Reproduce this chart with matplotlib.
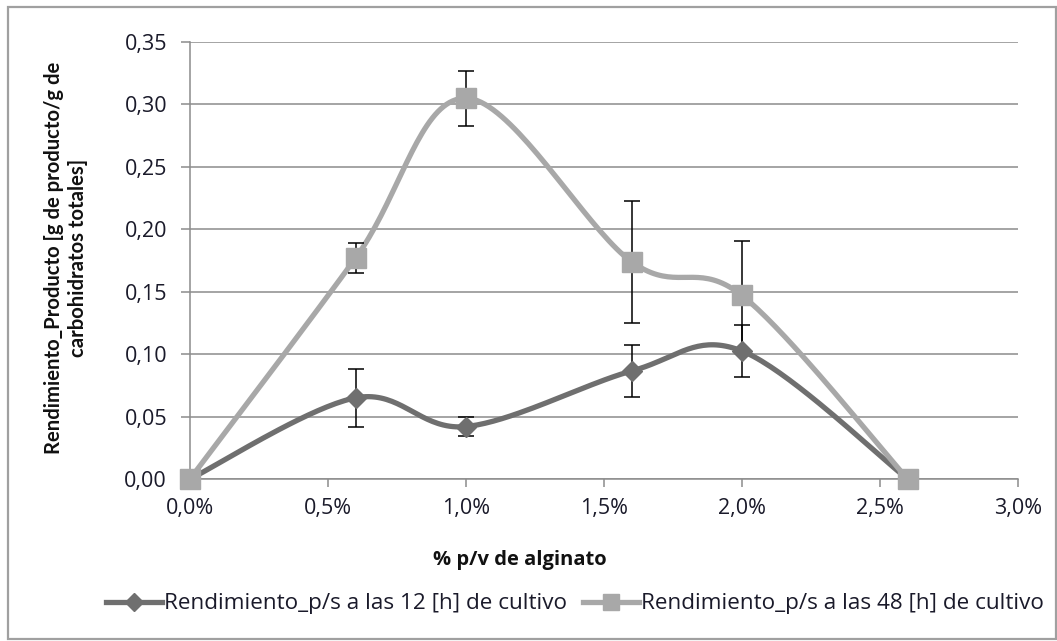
import numpy as np
import matplotlib
matplotlib.use('agg')
import matplotlib.pyplot as plt
from matplotlib.patches import Rectangle
from matplotlib.ticker import FuncFormatter

plt.rcParams['font.family'] = ['Open Sans', 'DejaVu Sans']

# % p/v de alginato
alginato = [0.0, 0.6, 1.0, 1.6, 2.0, 2.6]
rend_12h = [0.0, 0.065, 0.042, 0.0865, 0.1025, 0.0]
err_12h = [0.0, 0.0235, 0.0075, 0.021, 0.021, 0.0]
rend_48h = [0.0, 0.177, 0.305, 0.174, 0.147, 0.0]
err_48h = [0.0, 0.012, 0.022, 0.049, 0.044, 0.0]

label_12 = 'Rendimiento_p/s a las 12 [h] de cultivo'
label_48 = 'Rendimiento_p/s a las 48 [h] de cultivo'

c12 = '#6f6f6f'
c48 = '#a8a8a8'
grid_c = '#8c8c8c'
txt_c = '#1a1a2a'


def smooth(x, y, n=40):
    # excel style smoothed line (catmull-rom bezier)
    x = np.asarray(x, float)
    y = np.asarray(y, float)
    px = np.concatenate([[x[0]], x, [x[-1]]])
    py = np.concatenate([[y[0]], y, [y[-1]]])
    t = np.linspace(0, 1, n)
    xs, ys = [], []
    for i in range(1, len(px) - 2):
        p0 = np.array([px[i - 1], py[i - 1]])
        p1 = np.array([px[i], py[i]])
        p2 = np.array([px[i + 1], py[i + 1]])
        p3 = np.array([px[i + 2], py[i + 2]])
        c1 = p1 + (p2 - p0) / 6
        c2 = p2 - (p3 - p1) / 6
        b = ((1 - t) ** 3)[:, None] * p1 + (3 * (1 - t) ** 2 * t)[:, None] * c1 \
            + (3 * (1 - t) * t ** 2)[:, None] * c2 + (t ** 3)[:, None] * p2
        xs.append(b[:, 0])
        ys.append(b[:, 1])
    return np.concatenate(xs), np.concatenate(ys)


W, H = 1057, 641
fig = plt.figure(figsize=(W / 100, H / 100), dpi=100)
ax = fig.add_axes([190 / W, 1 - 479 / H, (1018 - 190) / W, (479 - 42) / H])

fig.patches.append(Rectangle((8 / W, 1 - 639 / H), (1056 - 8) / W, (639 - 7) / H,
                             transform=fig.transFigure, fill=False,
                             edgecolor='#a0a0a0', lw=1.6))

for xs, ys, es, col, mk, ms, lab in [
        (alginato, rend_12h, err_12h, c12, 'D', 10.5, label_12),
        (alginato, rend_48h, err_48h, c48, 's', 14, label_48)]:
    ax.errorbar(xs, ys, yerr=es, fmt='none', ecolor='black', elinewidth=1.1,
                capsize=6, capthick=1.1, zorder=3)
    sx, sy = smooth(xs, ys)
    ax.plot(sx, sy, color=col, lw=3.8, zorder=2, solid_capstyle='round', clip_on=False)
    ax.plot(xs, ys, ls='none', marker=mk, ms=ms, color=col, zorder=4, clip_on=False)
    ax.plot([], [], color=col, lw=3.8, marker=mk, ms=ms * 0.85, label=lab)

ax.set_xlim(0, 3.0)
ax.set_ylim(0, 0.35)
ax.set_xticks(np.arange(0, 3.01, 0.5))
ax.set_yticks(np.arange(0, 0.351, 0.05))
ax.xaxis.set_major_formatter(FuncFormatter(lambda v, p: f'{v:.1f}%'.replace('.', ',')))
ax.yaxis.set_major_formatter(FuncFormatter(lambda v, p: f'{v:.2f}'.replace('.', ',')))
ax.yaxis.grid(True, color=grid_c, lw=1.1)
ax.set_axisbelow(True)
for s in ['top', 'right']:
    ax.spines[s].set_visible(False)
for s in ['left', 'bottom']:
    ax.spines[s].set_color(grid_c)
    ax.spines[s].set_linewidth(1.1)
ax.tick_params(axis='y', length=6.5, width=1.1, color=grid_c, pad=10, labelsize=15.5, labelcolor=txt_c)
ax.tick_params(axis='x', length=6, width=1.1, color=grid_c, pad=8, labelsize=15.5, labelcolor=txt_c)

fig.text(520 / W, 1 - 560 / H, '% p/v de alginato', ha='center', va='center',
         fontsize=14.5, fontweight='bold', color='#111111')
fig.text(66 / W, 1 - 258 / H, 'Rendimiento_Producto [g de producto/g de\ncarbohidratos totales]',
         rotation=90, ha='center', va='center', multialignment='center',
         fontsize=14.6, fontweight='bold', color='#111111', linespacing=1.3,
         family=['Lato', 'DejaVu Sans'])

fig.legend(loc='center', bbox_to_anchor=(575 / W, 1 - 604 / H), ncol=2, frameon=False,
           fontsize=16.2, handlelength=2.5, handletextpad=0.1, columnspacing=0.7,
           labelcolor=txt_c)

fig.savefig('out.png', dpi=100)
